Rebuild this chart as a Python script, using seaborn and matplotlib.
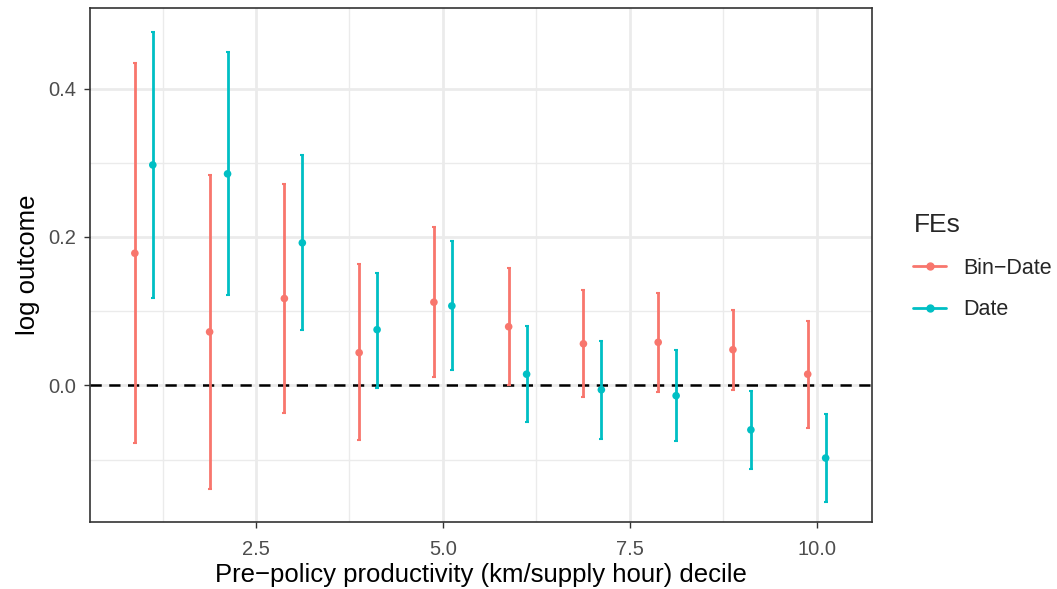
import numpy as np
import pandas as pd
import matplotlib
matplotlib.use("Agg")
import matplotlib.pyplot as plt
import seaborn as sns
from matplotlib.lines import Line2D

deciles = [1, 2, 3, 4, 5, 6, 7, 8, 9, 10]
groups = ["Bin\u2212Date", "Date"]

bin_est = [0.178, 0.072, 0.117, 0.044, 0.112, 0.079, 0.056, 0.058, 0.048, 0.015]
bin_lo = [-0.078, -0.140, -0.037, -0.074, 0.011, 0.000, -0.016, -0.009, -0.006, -0.057]
bin_hi = [0.435, 0.284, 0.271, 0.164, 0.213, 0.158, 0.129, 0.125, 0.102, 0.087]

date_est = [0.297, 0.285, 0.192, 0.075, 0.107, 0.015, -0.006, -0.014, -0.060, -0.098]
date_lo = [0.118, 0.122, 0.074, -0.003, 0.021, -0.050, -0.072, -0.075, -0.113, -0.157]
date_hi = [0.476, 0.449, 0.310, 0.152, 0.194, 0.080, 0.060, 0.048, -0.007, -0.038]

colors = {"Bin\u2212Date": "#F8766D", "Date": "#00BFC4"}
offsets = {"Bin\u2212Date": -0.12, "Date": 0.12}

rows = []
for g, est, lo, hi in [(groups[0], bin_est, bin_lo, bin_hi), (groups[1], date_est, date_lo, date_hi)]:
    for d, e, l, h in zip(deciles, est, lo, hi):
        rows.append({"decile": d, "FEs": g, "est": e, "lo": l, "hi": h,
                     "x": d + offsets[g]})
df = pd.DataFrame(rows)

sns.set_theme(style="white")
plt.rcParams["font.family"] = ["Liberation Sans", "DejaVu Sans"]

fig = plt.figure(figsize=(10.57, 5.89), dpi=100)
ax = fig.add_axes([90 / 1057, 1 - 522 / 589, (872 - 90) / 1057, (522 - 8) / 589])

# grid
for v in [1.25, 3.75, 6.25, 8.75]:
    ax.axvline(v, color="#EBEBEB", lw=1.0, zorder=0)
for v in [-0.1, 0.1, 0.3]:
    ax.axhline(v, color="#EBEBEB", lw=1.0, zorder=0)
for v in [2.5, 5.0, 7.5, 10.0]:
    ax.axvline(v, color="#EBEBEB", lw=2.0, zorder=0)
for v in [0.0, 0.2, 0.4]:
    ax.axhline(v, color="#EBEBEB", lw=2.0, zorder=0)

ax.axhline(0, color="black", lw=1.8, ls=(0, (4.5, 3)), zorder=1)

for g in groups:
    sub = df[df["FEs"] == g]
    ax.errorbar(sub["x"], sub["est"],
                yerr=[sub["est"] - sub["lo"], sub["hi"] - sub["est"]],
                fmt="none", ecolor=colors[g], elinewidth=2.0, capsize=1.3,
                capthick=1.5, zorder=2)

sns.scatterplot(data=df, x="x", y="est", hue="FEs", palette=colors,
                hue_order=groups, s=30, edgecolor="none", ax=ax, zorder=3,
                legend=False)

ax.set_xlim(0.28, 10.74)
ax.set_ylim(-0.1842, 0.5085)
ax.set_xticks([2.5, 5.0, 7.5, 10.0])
ax.set_xticklabels(["2.5", "5.0", "7.5", "10.0"])
ax.set_yticks([0.0, 0.2, 0.4])
ax.set_yticklabels(["0.0", "0.2", "0.4"])
ax.tick_params(axis="both", which="major", length=4, width=1.0, color="#333333",
               labelsize=14.5, labelcolor="#4D4D4D", direction="out",
               bottom=True, left=True)
ax.tick_params(axis="x", pad=9)
ax.tick_params(axis="y", pad=6)
for sp in ax.spines.values():
    sp.set_color("#333333")
    sp.set_linewidth(1.2)

ax.set_xlabel("Pre\u2212policy productivity (km/supply hour) decile", fontsize=18.5,
              color="black", labelpad=3)
ax.set_ylabel("log outcome", fontsize=18.5, color="black", labelpad=6)

handles = [Line2D([0], [0], color=colors[g], lw=2.0, marker="o", markersize=5)
           for g in groups]
leg = fig.legend(handles, groups, title="FEs", loc="upper left",
                 bbox_to_anchor=(894 / 1057, 1 - 194 / 589), frameon=False,
                 fontsize=15.5, title_fontsize=19, handlelength=1.5,
                 handletextpad=0.8, labelspacing=0.95, alignment="left")

fig.savefig("out.png", dpi=100)
